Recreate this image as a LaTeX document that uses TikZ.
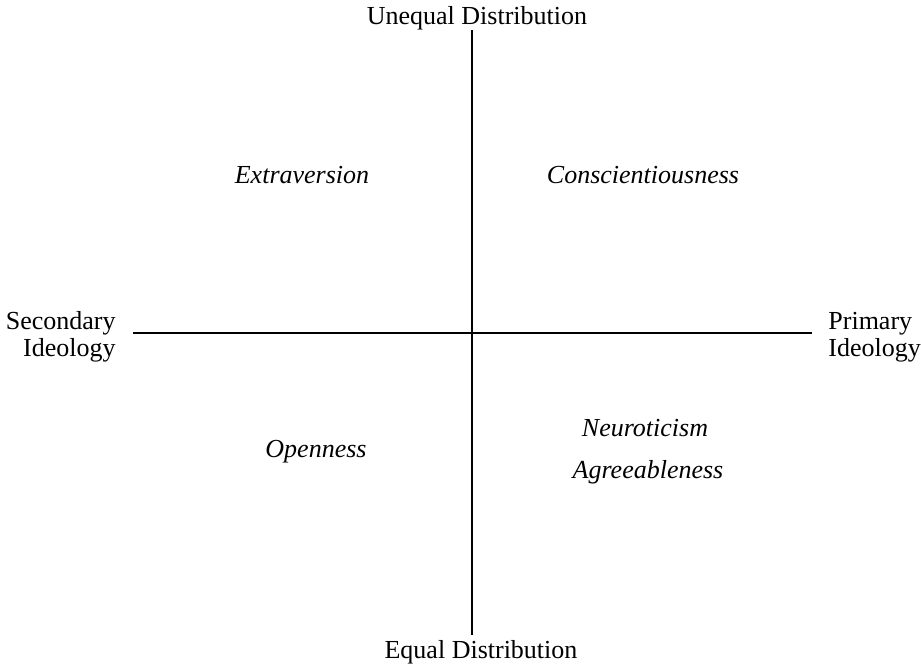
\documentclass[tikz,border=0pt]{standalone}
\usepackage{fontspec}
\setmainfont{Liberation Serif}
\begin{document}
\begin{tikzpicture}[x=0.5pt,y=-0.5pt,
  lbl/.style={inner sep=0pt,font=\fontsize{13}{13.5}\selectfont},
  trait/.style={lbl,font=\fontsize{13}{13.5}\selectfont\itshape}]
\useasboundingbox (0,0) rectangle (921,666);
\coordinate (top) at (472,30);
\coordinate (bottom) at (472,635);
\coordinate (left) at (133,333);
\coordinate (right) at (812,333);

\node[lbl, anchor=base] (unequal) at (477,24) {Unequal Distribution};
\node[lbl, anchor=base] (equal) at (481,658) {Equal Distribution};
\node[lbl, anchor=east, align=right] (secondary) at (116,337) {Secondary\\Ideology};
\node[lbl, anchor=west, align=left] (primary) at (828,337) {Primary\\Ideology};

\node[trait] (extra) at (302,175) {Extraversion};
\node[trait] (consc) at (643,175) {Conscientiousness};
\node[trait] (open) at (316,452) {Openness};
\node[trait] (neuro) at (645,428) {Neuroticism};
\node[trait] (agree) at (648,472) {Agreeableness};

\path[draw,line width=1pt] (top) -- (bottom);
\path[draw,line width=1pt] (left) -- (right);
\end{tikzpicture}
\end{document}
